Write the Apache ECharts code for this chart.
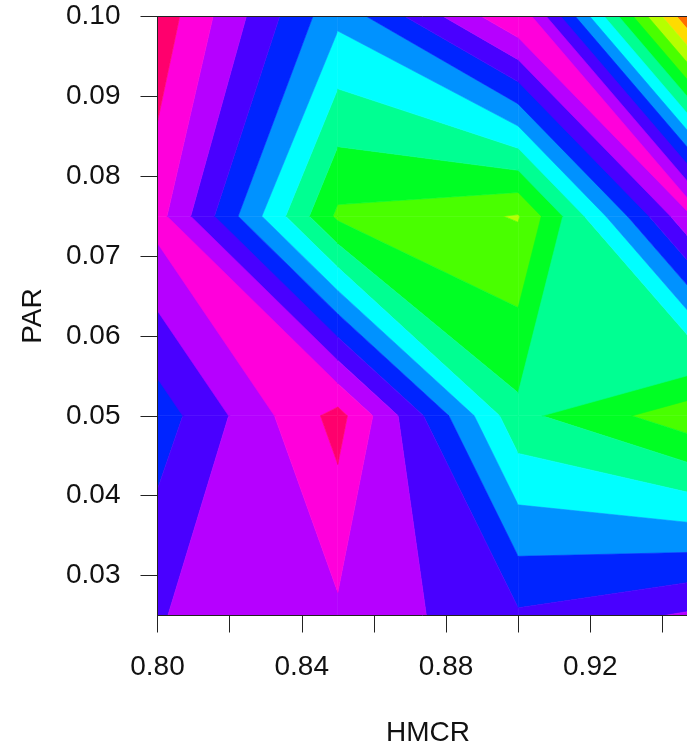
<!DOCTYPE html>
<html><head><meta charset="utf-8">
<script src="https://cdn.jsdelivr.net/npm/echarts@6/dist/echarts.min.js"></script>
<style>html,body{margin:0;padding:0;background:#fff}#chart{width:687px;height:749px}</style>
</head><body><div id="chart"></div>
<script>
// Grid of the response surface (HMCR x PAR), values in contour-level units
const hmcr = [0.80, 0.85, 0.90, 0.95];
const par = [0.025, 0.05, 0.075, 0.10];
const zPar025 = [10.95, 11.82, 10.15, 11.2];
const zPar050 = [9.45, 13.38, 6.27, 4.26];
const zPar075 = [12.4, 4.8, 3.93, 12.3];
const zPar100 = [13.67, 8.25, 12.95, 0.5];
const levels = [0, 1, 2, 3, 4, 5, 6, 7, 8, 9, 10, 11, 12, 13, 14];
// rainbow(14)
const bandColors = ['#FF0000', '#FF6D00', '#FFDB00', '#B6FF00', '#49FF00', '#00FF24', '#00FF92',
                    '#00FFFF', '#0092FF', '#0024FF', '#4900FF', '#B600FF', '#FF00DB', '#FF006D'];
const xTickValues = [0.80, 0.82, 0.84, 0.86, 0.88, 0.90, 0.92, 0.94];
const xLabelValues = [0.80, 0.84, 0.88, 0.92];
const yTickValues = [0.03, 0.04, 0.05, 0.06, 0.07, 0.08, 0.09, 0.10];

const zGrid = [zPar025, zPar050, zPar075, zPar100];

const cells = [];
for (let j = 0; j < par.length - 1; j++)
  for (let i = 0; i < hmcr.length - 1; i++)
    cells.push([hmcr[i], par[j], i, j]);

function along(a, b, c) { return [a[0] + c * (b[0] - a[0]), a[1] + c * (b[1] - a[1])]; }
// same edge-cut rule as R's filled.contour
function cut(low, high, p1, z1, p2, z2, out) {
  if (z1 > z2) {
    if (z2 > high || z1 < low) return;
    if (z1 < high) out.push(p1); else out.push(along(p1, p2, (z1 - high) / (z1 - z2)));
    if (!(z2 > low)) out.push(along(p2, p1, (z2 - low) / (z2 - z1)));
  } else if (z1 < z2) {
    if (z2 < low || z1 > high) return;
    if (z1 > low) out.push(p1); else out.push(along(p1, p2, (z1 - low) / (z1 - z2)));
    if (!(z2 < high)) out.push(along(p2, p1, (z2 - high) / (z2 - z1)));
  } else {
    if (low <= z1 && z1 <= high) out.push(p1);
  }
}

const chart = echarts.init(document.getElementById('chart'), null, {renderer: 'canvas'});
const font = 'Liberation Sans, Arial, sans-serif';
chart.setOption({
  animation: false,
  backgroundColor: '#ffffff',
  grid: {left: 157.5, top: 16.5, width: 541, height: 599, containLabel: false, outerBoundsMode: 'none'},
  xAxis: [{
    type: 'value', min: 0.80, max: 0.95, position: 'bottom', z: 10,
    name: 'HMCR', nameLocation: 'middle', nameGap: 104,
    nameTextStyle: {fontFamily: font, fontSize: 28, color: '#111'},
    axisLine: {show: true, onZero: false, lineStyle: {color: '#222', width: 1}},
    axisTick: {show: true, inside: false, length: 17, customValues: xTickValues, lineStyle: {color: '#222', width: 1}},
    axisLabel: {show: true, margin: 38, customValues: xLabelValues, fontFamily: font, fontSize: 28, color: '#111',
      formatter: v => v.toFixed(2)},
    splitLine: {show: false}
  }, {
    type: 'value', min: 0.80, max: 0.95, position: 'top', z: 10,
    axisLine: {show: true, onZero: false, lineStyle: {color: '#222', width: 1}},
    axisTick: {show: false}, axisLabel: {show: false}, splitLine: {show: false}
  }],
  yAxis: {
    type: 'value', min: 0.025, max: 0.10, position: 'left', z: 10,
    name: 'PAR', nameLocation: 'middle', nameGap: 110, nameRotate: 90,
    nameTextStyle: {fontFamily: font, fontSize: 28, color: '#111'},
    axisLine: {show: true, onZero: false, lineStyle: {color: '#222', width: 1}},
    axisTick: {show: true, inside: false, length: 17, customValues: yTickValues, lineStyle: {color: '#222', width: 1}},
    axisLabel: {show: true, margin: 37, customValues: yTickValues, fontFamily: font, fontSize: 28, color: '#111',
      formatter: v => v.toFixed(2)},
    splitLine: {show: false}
  },
  series: [{
    type: 'custom',
    coordinateSystem: 'cartesian2d',
    xAxisIndex: 0, yAxisIndex: 0,
    data: cells,
    encode: {x: 0, y: 1},
    renderItem: function (params, api) {
      const i = api.value(2), j = api.value(3);
      const x1 = hmcr[i], x2 = hmcr[i + 1], y1 = par[j], y2 = par[j + 1];
      const z11 = zGrid[j][i], z21 = zGrid[j][i + 1], z12 = zGrid[j + 1][i], z22 = zGrid[j + 1][i + 1];
      const children = [];
      for (let k = 0; k < levels.length - 1; k++) {
        const pts = [];
        const lo = levels[k], hi = levels[k + 1];
        cut(lo, hi, [x1, y1], z11, [x2, y1], z21, pts);
        cut(lo, hi, [x2, y1], z21, [x2, y2], z22, pts);
        cut(lo, hi, [x2, y2], z22, [x1, y2], z12, pts);
        cut(lo, hi, [x1, y2], z12, [x1, y1], z11, pts);
        if (pts.length > 2) {
          children.push({
            type: 'polygon',
            shape: {points: pts.map(p => api.coord(p))},
            style: {fill: bandColors[k], stroke: bandColors[k], lineWidth: 0.6}
          });
        }
      }
      return {type: 'group', children: children};
    }
  }]
});
</script>
</body></html>
